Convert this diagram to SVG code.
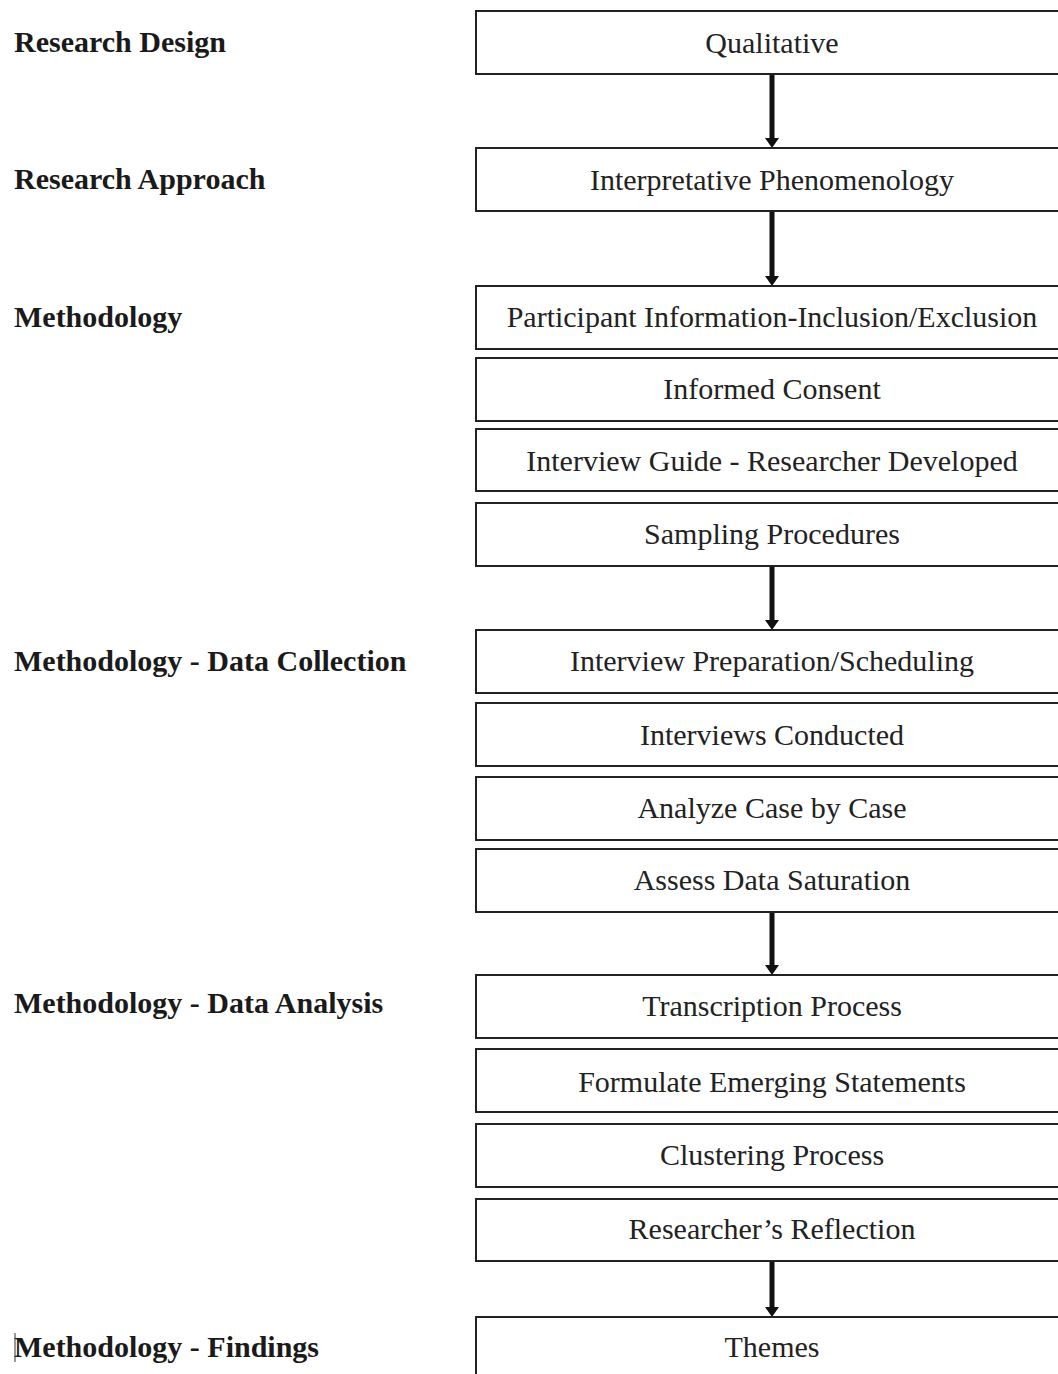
<svg xmlns="http://www.w3.org/2000/svg" width="1058" height="1374" viewBox="0 0 1058 1374">
<defs>
<style>
.box{fill:#fff;stroke:#222;stroke-width:2}
.t{font-family:"Liberation Serif","Times New Roman",serif;font-size:30px;fill:#222;text-anchor:middle}
.lab{font-family:"Liberation Serif","Times New Roman",serif;font-size:30px;font-weight:bold;fill:#1a1a1a}
.conn{stroke:#111;stroke-width:5;fill:none}
</style>
<marker id="ah" markerUnits="userSpaceOnUse" markerWidth="10" markerHeight="14" refX="1" refY="7" orient="auto" viewBox="0 0 10 14">
<path d="M0,0 L10,7 L0,14 Z" fill="#111"/>
</marker>
</defs>
<rect width="1058" height="1374" fill="#fff"/>
<g id="labels">
<text class="lab" x="14" y="52">Research Design</text>
<text class="lab" x="14" y="189">Research Approach</text>
<text class="lab" x="14" y="327">Methodology</text>
<text class="lab" x="14" y="671">Methodology - Data Collection</text>
<text class="lab" x="14" y="1013">Methodology - Data Analysis</text>
<text class="lab" x="14" y="1357">Methodology - Findings</text>
<line x1="15" y1="1333" x2="15" y2="1362" stroke="#333" stroke-width="1"/>
</g>
<g id="connectors">
<line class="conn" x1="772" y1="75" x2="772" y2="139" marker-end="url(#ah)"/>
<line class="conn" x1="772" y1="212" x2="772" y2="277" marker-end="url(#ah)"/>
<line class="conn" x1="772" y1="567" x2="772" y2="621" marker-end="url(#ah)"/>
<line class="conn" x1="772" y1="913" x2="772" y2="966" marker-end="url(#ah)"/>
<line class="conn" x1="772" y1="1262" x2="772" y2="1308" marker-end="url(#ah)"/>
</g>
<g id="n1"><rect class="box" x="476" y="11" width="600" height="63"/><text class="t" x="772" y="53">Qualitative</text></g>
<g id="n2"><rect class="box" x="476" y="148" width="600" height="63"/><text class="t" x="772" y="190">Interpretative Phenomenology</text></g>
<g id="n3"><rect class="box" x="476" y="286" width="600" height="63"/><text class="t" x="772" y="327">Participant Information-Inclusion/Exclusion</text></g>
<g id="n4"><rect class="box" x="476" y="358" width="600" height="63"/><text class="t" x="772" y="399">Informed Consent</text></g>
<g id="n5"><rect class="box" x="476" y="429" width="600" height="62"/><text class="t" x="772" y="471">Interview Guide - Researcher Developed</text></g>
<g id="n6"><rect class="box" x="476" y="503" width="600" height="63"/><text class="t" x="772" y="544">Sampling Procedures</text></g>
<g id="n7"><rect class="box" x="476" y="630" width="600" height="63"/><text class="t" x="772" y="671">Interview Preparation/Scheduling</text></g>
<g id="n8"><rect class="box" x="476" y="703" width="600" height="63"/><text class="t" x="772" y="745">Interviews Conducted</text></g>
<g id="n9"><rect class="box" x="476" y="777" width="600" height="63"/><text class="t" x="772" y="818">Analyze Case by Case</text></g>
<g id="n10"><rect class="box" x="476" y="849" width="600" height="63"/><text class="t" x="772" y="890">Assess Data Saturation</text></g>
<g id="n11"><rect class="box" x="476" y="975" width="600" height="63"/><text class="t" x="772" y="1016">Transcription Process</text></g>
<g id="n12"><rect class="box" x="476" y="1049" width="600" height="63"/><text class="t" x="772" y="1092">Formulate Emerging Statements</text></g>
<g id="n13"><rect class="box" x="476" y="1124" width="600" height="63"/><text class="t" x="772" y="1165">Clustering Process</text></g>
<g id="n14"><rect class="box" x="476" y="1199" width="600" height="62"/><text class="t" x="772" y="1239">Researcher’s Reflection</text></g>
<g id="n15"><rect class="box" x="476" y="1317" width="600" height="80"/><text class="t" x="772" y="1357">Themes</text></g>
</svg>
